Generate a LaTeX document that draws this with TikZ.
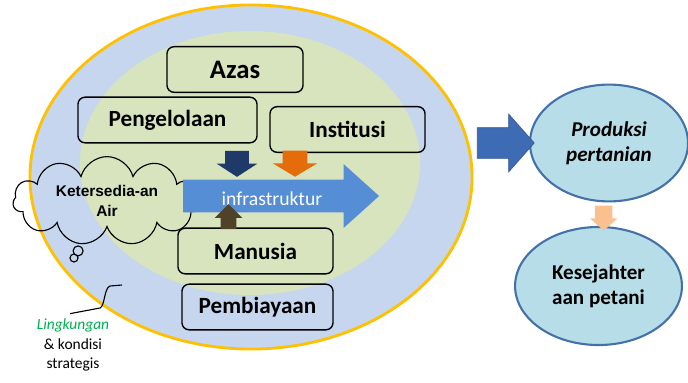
\documentclass[tikz,border=0pt]{standalone}
\usepackage{fontspec}
\setmainfont{Carlito}
\newfontfamily\cloudfont{Liberation Sans}
\usepackage{tikz}
\usetikzlibrary{calc, shapes.geometric, shapes.arrows, shapes.callouts}

\definecolor{outerblue}{RGB}{198,214,238}
\definecolor{ringgold}{RGB}{255,192,0}
\definecolor{innergreen}{RGB}{215,228,189}
\definecolor{infrablue}{RGB}{85,142,213}
\definecolor{navyarrow}{RGB}{31,58,104}
\definecolor{orangearrow}{RGB}{228,108,10}
\definecolor{brownarrow}{RGB}{79,66,40}
\definecolor{outarrow}{RGB}{62,108,180}
\definecolor{outarrowline}{RGB}{47,85,151}
\definecolor{resultfill}{RGB}{183,222,232}
\definecolor{resultline}{RGB}{68,114,168}
\definecolor{peach}{RGB}{250,192,144}
\definecolor{lgreen}{RGB}{0,176,80}

\tikzset{
    factor/.style={rectangle, rounded corners=5pt, draw=black, line width=1pt, minimum height=1.14cm, font=\bfseries\fontsize{16.5}{19}\selectfont},
    blockarrow/.style={single arrow, inner xsep=0pt},
    result/.style={ellipse, fill=resultfill, draw=resultline, line width=1.5pt, align=center, font=\bfseries\fontsize{15}{18}\selectfont}
}

\begin{document}
\begin{tikzpicture}[x=0.025cm, y=-0.025cm]

        \useasboundingbox (0,0) rectangle (688,382);

        %% Ellipses
        \node (lingk) [ellipse, minimum width=11.05cm, minimum height=8.6cm, fill=outerblue, draw=ringgold, line width=2pt] at (251,177) {};
        \node (inner) [ellipse, minimum width=8.5cm, minimum height=6.6cm, fill=innergreen] at (250,163) {};

        %% Cloud
        \node (air) [cloud callout, cloud puffs=11, cloud ignores aspect, minimum width=4.7cm, minimum height=1.95cm, callout absolute pointer={(74,258)}, callout pointer start size=0.35cm and 0.3cm, callout pointer end size=0.25cm and 0.2cm, draw=black, thick, align=center, font=\cloudfont\bfseries\fontsize{11}{14}\selectfont] at (107,201) {Ketersedia-an\\Air};

        %% Rectangles
        \node (azas) [factor, minimum width=3.4cm, font=\bfseries\fontsize{19}{22}\selectfont] at (235,69.5) {Azas};
        \node (kelola) [factor, minimum width=4.475cm] at (167.5,120) {Pengelolaan};
        \node (inst) [factor, minimum width=3.875cm] at (347.5,129.5) {Institusi};
        \node (manusia) [factor, minimum width=3.875cm] at (255.5,251) {Manusia};
        \node (biaya) [factor, minimum width=3.775cm] at (257.5,307) {Pembiayaan};

        %% Infrastruktur
        \node (infra) [blockarrow, fill=infrablue, minimum height=4.9cm, inner ysep=0.175cm, text height=0.45cm, text depth=0cm, single arrow head extend=0.39cm, single arrow tip angle=84, text=white, font=\fontsize{14}{16}\selectfont] at (272,196) {infrastruktur};

        %% Arrows into infrastruktur
        \node (navy) [blockarrow, rotate=-90, fill=navyarrow, minimum height=0.65cm, inner ysep=0.29cm, single arrow head extend=0.21cm, single arrow tip angle=114] at (237,160) {};
        \node (orange) [blockarrow, rotate=-90, fill=orangearrow, minimum height=0.65cm, inner ysep=0.3cm, single arrow head extend=0.25cm, single arrow tip angle=118] at (295,160) {};
        \node (brown) [blockarrow, rotate=90, fill=brownarrow, minimum height=0.625cm, inner ysep=0.19cm, single arrow head extend=0.15cm] at (228.5,220.5) {};

        %% Results
        \node (prod) [result, minimum width=3.95cm, minimum height=2.92cm] at (609,143) {\textit{Produksi}\\\textit{pertanian}};
        \node (kes) [result, minimum width=4.17cm, minimum height=2.95cm] at (598.5,286) {Kesejahter\\aan petani};

        %% Arrows to the results
        \node (toprod) [blockarrow, fill=outarrow, draw=outarrowline, minimum height=1.425cm, inner ysep=0.375cm, single arrow head extend=0.34cm, single arrow tip angle=97] at (499,143) {};
        \node (tokes) [blockarrow, rotate=-90, fill=peach, minimum height=0.625cm, inner ysep=0.21cm, single arrow head extend=0.125cm, single arrow tip angle=97] at ($(prod.south)!0.5!(kes.north)$) {};

        %% Lingkungan
        \node (lingtext) [align=center, font=\fontsize{11}{14}\selectfont] at (73,345) {\textcolor{lgreen}{\textit{Lingkungan}}\\\& kondisi\\strategis};
        \coordinate (rim) at (122,285);
        \draw [thick] ($(lingtext.north)+(-3,0)$) -- (100,308) .. controls (105,306) and (104,288) .. (110,286) -- (rim);

    \end{tikzpicture}
\end{document}
